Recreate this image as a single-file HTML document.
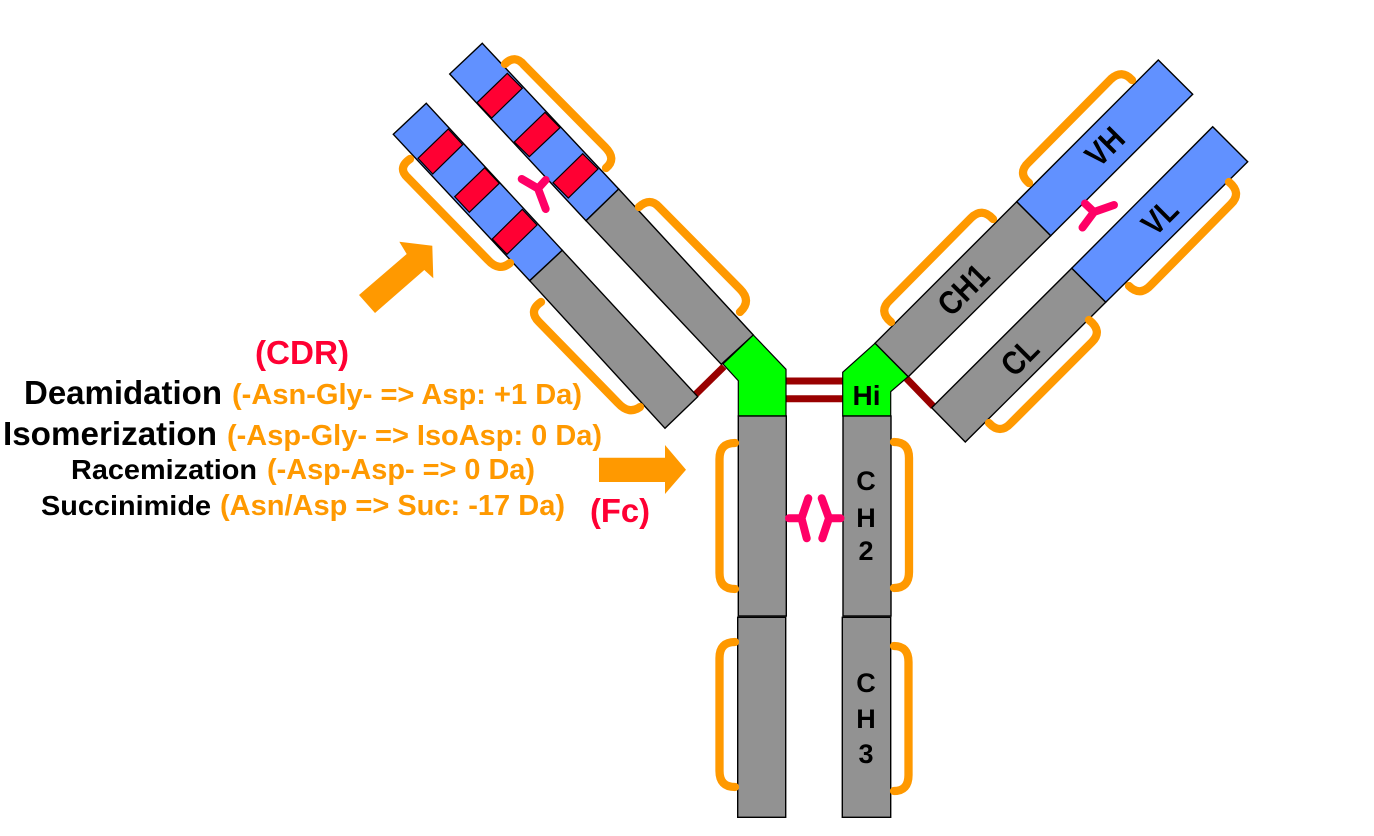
<!DOCTYPE html>
<html>
<head>
<meta charset="utf-8">
<style>
html,body{margin:0;padding:0;background:#fff;width:1374px;height:836px;overflow:hidden}
svg{display:block}
text{font-family:"Liberation Sans",sans-serif;font-weight:bold}
.o{fill:#FF9900}
.k{fill:#000}
.r{fill:#FF0033}
.g{fill:#929292;stroke:#000;stroke-width:1.4;stroke-linejoin:miter}
.b{fill:#6191FF;stroke:#000;stroke-width:1.4}
.c{fill:#FF0033;stroke:#000;stroke-width:1.2}
.h{fill:#00FF00;stroke:#000;stroke-width:1.2}
.br{fill:none;stroke:#FF9900;stroke-width:8.3;stroke-linecap:round;stroke-linejoin:round}
.p{fill:none;stroke:#FF0066;stroke-width:8;stroke-linecap:round;stroke-linejoin:round}
.d{stroke:#990000;stroke-width:7;fill:none}
</style>
</head>
<body>
<svg width="1374" height="836" viewBox="0 0 1374 836" xmlns="http://www.w3.org/2000/svg">
<rect width="1374" height="836" fill="#fff"/>

<!-- connectors -->
<path class="d" d="M695,395 L724,366.5"/>
<path class="d" d="M906.5,378.5 L933.5,406.5"/>
<path class="d" d="M786,381 H843"/>
<path class="d" d="M786,398.7 H843"/>

<!-- left upper chain -->
<polygon class="b" points="482.3,43.3 618.7,189 586,220.7 449.7,74"/>
<polygon class="c" points="507.3,73.3 522.3,88.3 491.7,118 477,102.7"/>
<polygon class="c" points="545,112.3 560,127.7 529.3,156.7 514.3,142"/>
<polygon class="c" points="582.7,153.7 598,169 568.3,198 553,182.7"/>
<polygon class="g" points="618.7,189 753.3,335 721.3,364.3 586,220.7"/>

<!-- left lower chain -->
<polygon class="b" points="426.3,103.3 562.3,250.3 529.7,280.7 393.3,134.3"/>
<polygon class="c" points="448.3,129 462.7,144.7 432.7,174 418,158.3"/>
<polygon class="c" points="484.7,167.7 499.3,183.3 469.3,212.3 454.7,196.7"/>
<polygon class="c" points="522.3,209.3 537,225 507,254.3 492.3,239"/>
<polygon class="g" points="562.3,250.3 697.7,396.7 665,428.3 529.7,280.7"/>

<!-- right upper chain -->
<polygon class="b" points="1158.3,60 1192.7,94.3 1050.7,235.7 1016.7,201.7"/>
<polygon class="g" points="1016.7,201.7 1050.7,235.7 908.3,376.7 875,343.3"/>

<!-- right lower chain -->
<polygon class="b" points="1212.7,126.7 1247.7,161.7 1105.7,302.3 1071.7,268.3"/>
<polygon class="g" points="1071.7,268.3 1105.7,302.3 965.3,442 931.7,407.7"/>

<!-- hinges -->
<polygon class="h" points="753.3,335 786,369.3 786,416 738.3,416 738.3,380.7 723,364"/>
<polygon class="h" points="875,343.3 908,376.7 890.7,391.7 890.7,416 842.7,416 842.7,372.3"/>

<!-- vertical chains -->
<rect class="g" x="738.3" y="416" width="48" height="200"/>
<rect class="g" x="843" y="416" width="48" height="200"/>
<rect class="g" x="737.7" y="617.3" width="48" height="200"/>
<rect class="g" x="842.3" y="617.3" width="48.4" height="200"/>

<!-- brackets -->
<path class="br" d="M505,64 Q515,54 524,65 L605,147 Q617,159 606,168"/>
<path class="br" d="M410,159 Q397,168 408,178 L488,260 Q499,272 510,263"/>
<path class="br" d="M639,207 Q650,197 659,207 L740,289 Q752,301 740,312"/>
<path class="br" d="M541,302 Q528,311 539,322 L618,403 Q629,415 640,407"/>
<path class="br" d="M1132,80 Q1122,69 1111,79 L1029,162 Q1017,173 1029,183"/>
<path class="br" d="M993,219 Q982,207 971,218 L890,300 Q878,311 891,322"/>
<path class="br" d="M1229,182 Q1242,193 1231,204 L1151,285 Q1140,297 1129,286"/>
<path class="br" d="M1089,320 Q1103,331 1092,342 L1011,423 Q1000,435 989,423"/>
<path class="br" d="M735,443 Q719.5,443 719.5,459 V573 Q719.5,589 735,589"/>
<path class="br" d="M894,442 Q909,442 909,458 V572 Q909,588 894,588"/>
<path class="br" d="M735,642 Q719.5,642 719.5,658 V771 Q719.5,787 735,787"/>
<path class="br" d="M894,646 Q908.5,646 908.5,662 V775 Q908.5,791 894,791"/>

<!-- pink glycans -->
<path class="p" d="M521.7,179 L538,188.5 L545.7,180 M538,188.5 L545.7,209"/>
<path class="p" d="M1085,203.5 L1094,212 L1114,205 M1094,212 L1082.5,227.5"/>
<path class="p" d="M789,518.3 H801.5 L808.3,498.3 M801.5,518.3 L806.7,538.3"/>
<path class="p" d="M840.5,518.3 H829 L821.7,498.3 M829,518.3 L822.3,538.3"/>

<!-- orange arrows -->
<polygon fill="#FF9900" points="432.3,245.7 433.3,278.3 424.3,270 375,313 359,295 406.7,254 399.3,241.7"/>
<polygon fill="#FF9900" points="599,457.7 665,457.7 665,445 686,469.7 665,494 665,482 599,482"/>

<!-- left text -->
<text class="r" x="255" y="364" font-size="33" textLength="94" lengthAdjust="spacingAndGlyphs">(CDR)</text>
<text class="k" x="24" y="404" font-size="33" textLength="198" lengthAdjust="spacingAndGlyphs">Deamidation</text>
<text class="o" x="232" y="404" font-size="29" textLength="350" lengthAdjust="spacingAndGlyphs">(-Asn-Gly- =&gt; Asp: +1 Da)</text>
<text class="k" x="3" y="445" font-size="33" textLength="214" lengthAdjust="spacingAndGlyphs">Isomerization</text>
<text class="o" x="227" y="445" font-size="29" textLength="375" lengthAdjust="spacingAndGlyphs">(-Asp-Gly- =&gt; IsoAsp: 0 Da)</text>
<text class="k" x="71" y="479" font-size="28" textLength="186" lengthAdjust="spacingAndGlyphs">Racemization</text>
<text class="o" x="267" y="479" font-size="29" textLength="268" lengthAdjust="spacingAndGlyphs">(-Asp-Asp- =&gt; 0 Da)</text>
<text class="k" x="41" y="515" font-size="28" textLength="170" lengthAdjust="spacingAndGlyphs">Succinimide</text>
<text class="o" x="220" y="515" font-size="29" textLength="345" lengthAdjust="spacingAndGlyphs">(Asn/Asp =&gt; Suc: -17 Da)</text>
<text class="r" x="590" y="522" font-size="33" textLength="60" lengthAdjust="spacingAndGlyphs">(Fc)</text>

<!-- domain labels -->
<text class="k" font-size="33" text-anchor="middle" textLength="40" lengthAdjust="spacingAndGlyphs" x="1105" y="158" transform="rotate(-45 1105 147)">VH</text>
<text class="k" font-size="33" text-anchor="middle" textLength="36" lengthAdjust="spacingAndGlyphs" x="1160" y="228" transform="rotate(-45 1160 217)">VL</text>
<text class="k" font-size="33" text-anchor="middle" textLength="57" lengthAdjust="spacingAndGlyphs" x="963.5" y="301" transform="rotate(-45 963.5 290)">CH1</text>
<text class="k" font-size="33" text-anchor="middle" textLength="38" lengthAdjust="spacingAndGlyphs" x="1020" y="368" transform="rotate(-45 1020 357)">CL</text>
<text class="k" font-size="28" text-anchor="middle" x="866.5" y="405">Hi</text>
<text class="k" font-size="27" text-anchor="middle" x="866" y="490">C</text>
<text class="k" font-size="27" text-anchor="middle" x="866" y="527">H</text>
<text class="k" font-size="27" text-anchor="middle" x="866" y="560">2</text>
<text class="k" font-size="27" text-anchor="middle" x="866" y="692">C</text>
<text class="k" font-size="27" text-anchor="middle" x="866" y="728">H</text>
<text class="k" font-size="27" text-anchor="middle" x="866" y="763">3</text>
</svg>
</body>
</html>
